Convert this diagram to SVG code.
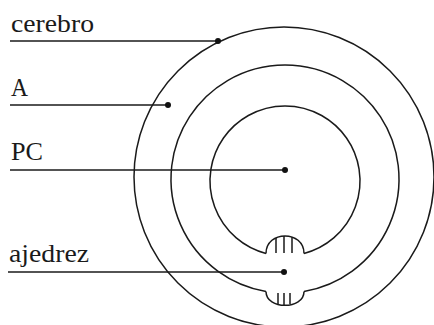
<svg xmlns="http://www.w3.org/2000/svg" width="434" height="325" viewBox="0 0 434 325">
<style>
.s{fill:none;stroke:#1a1a1a;stroke-width:1.5}
.t{font-size:25px;fill:#1a1a1a}
.d{fill:#111}
</style>
<rect width="434" height="325" fill="#fff"/>
<g id="circles">
<g id="cerebro-circle"><circle class="s" cx="284" cy="177" r="150"/></g>
<g id="A-circle">
<path class="s" d="M266,291.4 A114,114 0 1 1 304,291.4"/>
<path class="s" d="M266,291.4 C266,310 304,310 304,291.4"/>
<path class="s" d="M278,293 V304 M284,293 V305 M290,293 V304"/>
</g>
<g id="PC-circle">
<path class="s" d="M266,253.5 A75,75 0 1 1 304,253.5"/>
<path class="s" d="M266,253.5 C266,230 304,230 304,253.5"/>
<path class="s" d="M276,238 V253 M284,236 V253 M292,237 V253"/>
</g>
</g>
<g id="connectors">
<line class="s" x1="10" y1="41" x2="218" y2="41"/>
<line class="s" x1="10" y1="105" x2="168" y2="105"/>
<line class="s" x1="10" y1="170" x2="285" y2="170"/>
<line class="s" x1="8" y1="272" x2="284" y2="272"/>
<circle class="d" cx="218" cy="41" r="3"/>
<circle class="d" cx="168" cy="105" r="3"/>
<circle class="d" cx="285" cy="170" r="3"/>
<circle class="d" cx="284" cy="272" r="3"/>
</g>
<g id="label-cerebro"><text class="t" font-family="Liberation Serif, DejaVu Serif, serif" x="11" y="32" textLength="83" lengthAdjust="spacingAndGlyphs">cerebro</text></g>
<g id="label-A"><text class="t" font-family="Liberation Serif, DejaVu Serif, serif" x="11" y="96" textLength="17" lengthAdjust="spacingAndGlyphs">A</text></g>
<g id="label-PC"><text class="t" font-family="Liberation Serif, DejaVu Serif, serif" x="11" y="160" textLength="32" lengthAdjust="spacingAndGlyphs">PC</text></g>
<g id="label-ajedrez"><text class="t" font-family="Liberation Serif, DejaVu Serif, serif" x="9" y="262" textLength="80" lengthAdjust="spacingAndGlyphs">ajedrez</text></g>
</svg>
